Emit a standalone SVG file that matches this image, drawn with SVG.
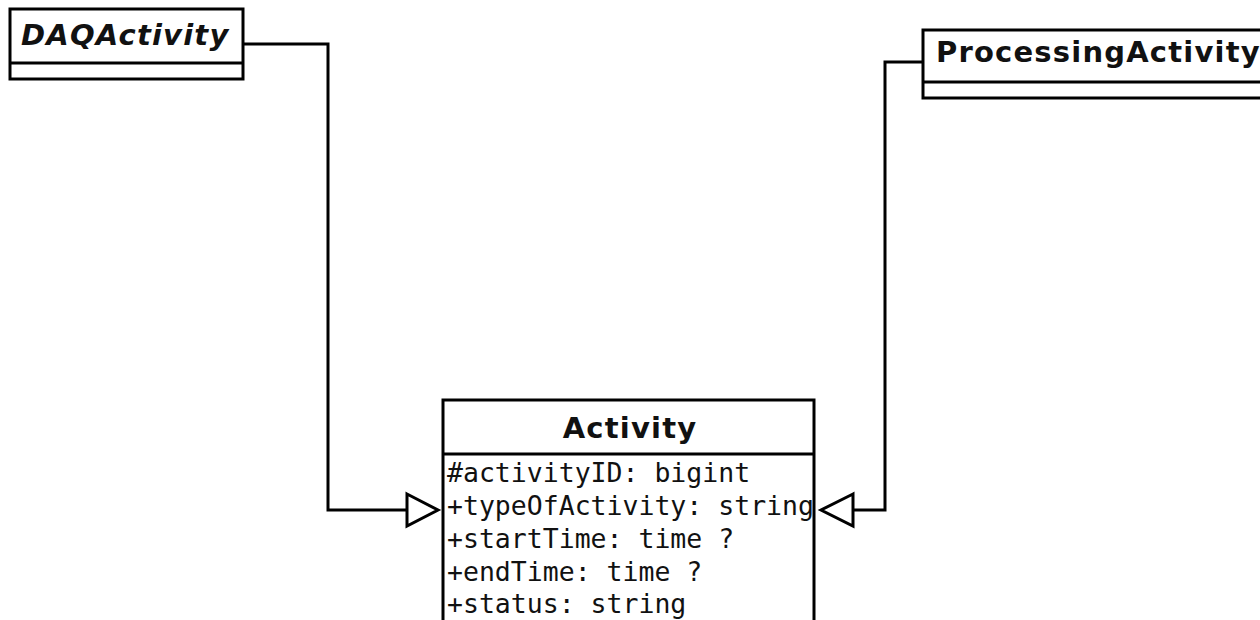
<svg xmlns="http://www.w3.org/2000/svg" width="1260" height="620" viewBox="0 0 1260 620">
<style>
.box{fill:#fff;stroke:#000;stroke-width:3}
.ln{fill:none;stroke:#000;stroke-width:3}
.tri{fill:#fff;stroke:#000;stroke-width:3;stroke-linejoin:miter}
.title{font-family:"DejaVu Sans",sans-serif;font-weight:bold;font-size:29px;fill:#111;letter-spacing:1.2px}
.attr{font-family:"DejaVu Sans Mono",monospace;font-size:26.5px;fill:#111}
</style>
<rect width="1260" height="620" fill="#fff"/>
<g id="connectors">
<polyline class="ln" points="243,44 328,44 328,510 407,510"/>
<polygon class="tri" points="407,494 438,510 407,526"/>
<polyline class="ln" points="923,62 885,62 885,510 853,510"/>
<polygon class="tri" points="853,494 821,510 853,526"/>
</g>
<g id="DAQActivity">
<rect class="box" x="10" y="9" width="233" height="70"/>
<line class="ln" x1="10" y1="63" x2="243" y2="63"/>
<text class="title" x="21" y="45" font-style="italic">DAQActivity</text>
</g>
<g id="ProcessingActivity">
<rect class="box" x="923" y="30" width="345" height="68"/>
<line class="ln" x1="923" y1="82" x2="1268" y2="82"/>
<text class="title" x="936" y="62">ProcessingActivity</text>
</g>
<g id="Activity">
<rect class="box" x="443" y="400" width="371" height="230"/>
<line class="ln" x1="443" y1="454" x2="814" y2="454"/>
<text class="title" x="630" y="438" text-anchor="middle" font-size="30" letter-spacing="0.6">Activity</text>
<text class="attr" x="447" y="482">#activityID: bigint</text>
<text class="attr" x="447" y="515">+typeOfActivity: string</text>
<text class="attr" x="447" y="548">+startTime: time ?</text>
<text class="attr" x="447" y="581">+endTime: time ?</text>
<text class="attr" x="447" y="613">+status: string</text>
</g>
</svg>
